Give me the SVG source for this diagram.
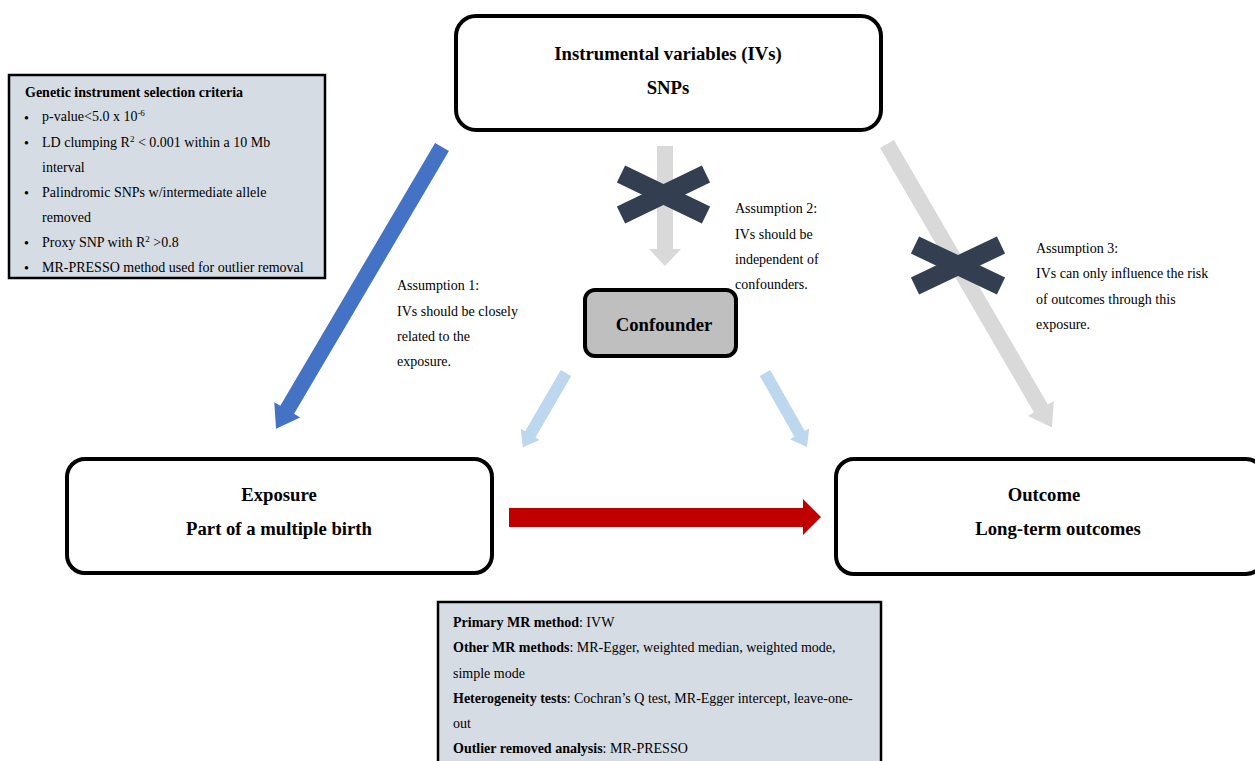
<svg xmlns="http://www.w3.org/2000/svg" width="1255" height="761" viewBox="0 0 1255 761">
<style>
text{font-family:"Liberation Serif","Times New Roman",serif;fill:#000}
.node{fill:#fff;stroke:#000;stroke-width:4}
.panel{fill:#d6dce4;stroke:#000;stroke-width:2.5}
.t{font-size:18.7px;font-weight:bold;text-anchor:middle}
.s{font-size:14px}
.b{font-weight:bold}
.x{stroke:#333f50;stroke-width:19;stroke-linecap:butt}
</style>
<rect width="1255" height="761" fill="#fff"/>
<g id="connectors">
  <g transform="translate(442,147) rotate(120.5)">
    <polygon points="0,-8 305,-8 305,-15 327,0 305,15 305,8 0,8" fill="#4472c4"/>
  </g>
  <g transform="translate(887,144) rotate(59.8)">
    <polygon points="0,-8 306,-8 306,-15 328,0 306,15 306,8 0,8" fill="#d9d9d9"/>
  </g>
  <polygon points="657,146 673,146 673,249 681,249 665,266 649,249 657,249" fill="#d9d9d9"/>
  <g transform="translate(566,373) rotate(120.2)">
    <polygon points="0,-6 71,-6 71,-11 86,0 71,11 71,6 0,6" fill="#bdd7ee"/>
  </g>
  <g transform="translate(765,373) rotate(60.4)">
    <polygon points="0,-6 70,-6 70,-11 85,0 70,11 70,6 0,6" fill="#bdd7ee"/>
  </g>
  <polygon points="509,508 803,508 803,499 821,517 803,535 803,527 509,527" fill="#c00000"/>
  <g id="cross1">
    <line class="x" x1="621" y1="174" x2="706" y2="215"/>
    <line class="x" x1="621" y1="215" x2="706" y2="174"/>
  </g>
  <g id="cross2">
    <line class="x" x1="915" y1="245" x2="1001" y2="286"/>
    <line class="x" x1="915" y1="286" x2="1001" y2="245"/>
  </g>
</g>
<g id="ivs">
  <rect class="node" x="456" y="16" width="425" height="114" rx="20"/>
  <text class="t" x="668" y="60">Instrumental variables (IVs)</text>
  <text class="t" x="668" y="94">SNPs</text>
</g>
<g id="confounder">
  <rect class="node" x="585" y="290" width="151" height="66" rx="10" style="fill:#bfbfbf"/>
  <text class="t" x="664" y="331">Confounder</text>
</g>
<g id="exposure">
  <rect class="node" x="67" y="459" width="425" height="114" rx="18"/>
  <text class="t" x="279" y="501">Exposure</text>
  <text class="t" x="279" y="535">Part of a multiple birth</text>
</g>
<g id="outcome">
  <rect class="node" x="836" y="459" width="428" height="115" rx="18"/>
  <text class="t" x="1044" y="501">Outcome</text>
  <text class="t" x="1058" y="535">Long-term outcomes</text>
</g>
<g id="criteria">
  <rect class="panel" x="9" y="75" width="316" height="203"/>
  <text class="s b" x="25" y="97">Genetic instrument selection criteria</text>
  <g class="s" font-size="15">
    <text x="24" y="123">•</text>
    <text x="24" y="148">•</text>
    <text x="24" y="198">•</text>
    <text x="24" y="248">•</text>
    <text x="24" y="273">•</text>
  </g>
  <text class="s" x="42" y="121">p-value&lt;5.0 x 10<tspan font-size="9" dy="-5">-6</tspan></text>
  <text class="s" x="42" y="147">LD clumping R<tspan font-size="9" dy="-5">2</tspan><tspan dy="5"> &lt; 0.001 within a 10 Mb</tspan></text>
  <text class="s" x="42" y="172">interval</text>
  <text class="s" x="42" y="197">Palindromic SNPs w/intermediate allele</text>
  <text class="s" x="42" y="222">removed</text>
  <text class="s" x="42" y="247">Proxy SNP with R<tspan font-size="9" dy="-5">2</tspan><tspan dy="5"> &gt;0.8</tspan></text>
  <text class="s" x="42" y="272">MR-PRESSO method used for outlier removal</text>
</g>
<g id="methods">
  <rect class="panel" x="438" y="602" width="443" height="170"/>
  <text class="s" x="453" y="627"><tspan class="b">Primary MR method</tspan>: IVW</text>
  <text class="s" x="453" y="652"><tspan class="b">Other MR methods</tspan>: MR-Egger, weighted median, weighted mode,</text>
  <text class="s" x="453" y="678">simple mode</text>
  <text class="s" x="453" y="703"><tspan class="b">Heterogeneity tests</tspan>: Cochran’s Q test, MR-Egger intercept, leave-one-</text>
  <text class="s" x="453" y="728">out</text>
  <text class="s" x="453" y="753"><tspan class="b">Outlier removed analysis</tspan>: MR-PRESSO</text>
</g>
<g id="assumption1" class="s">
  <text x="397" y="290">Assumption 1:</text>
  <text x="397" y="316">IVs should be closely</text>
  <text x="397" y="341">related to the</text>
  <text x="397" y="366">exposure.</text>
</g>
<g id="assumption2" class="s">
  <text x="735" y="213">Assumption 2:</text>
  <text x="735" y="239">IVs should be</text>
  <text x="735" y="264">independent of</text>
  <text x="735" y="289">confounders.</text>
</g>
<g id="assumption3" class="s">
  <text x="1036" y="253">Assumption 3:</text>
  <text x="1036" y="278">IVs can only influence the risk</text>
  <text x="1036" y="304">of outcomes through this</text>
  <text x="1036" y="329">exposure.</text>
</g>
</svg>
